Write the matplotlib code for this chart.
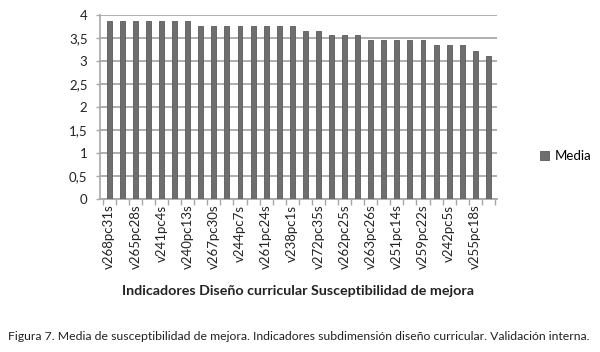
import matplotlib
matplotlib.use("Agg")
import matplotlib.pyplot as plt
import numpy as np

values = [3.88, 3.88, 3.88, 3.88, 3.88, 3.88, 3.88,
          3.77, 3.77, 3.77, 3.77, 3.77, 3.77, 3.77, 3.77,
          3.66, 3.66,
          3.56, 3.56, 3.56,
          3.45, 3.45, 3.45, 3.45, 3.45,
          3.34, 3.34, 3.34,
          3.22, 3.11]
tick_labels = ["v268pc31s", "v265pc28s", "v241pc4s", "v240pc13s", "v267pc30s",
               "v244pc7s", "v261pc24s", "v238pc1s", "v272pc35s", "v262pc25s",
               "v263pc26s", "v251pc14s", "v259pc22s", "v242pc5s", "v255pc18s"]
series_name = "Media"
xlabel = "Indicadores Diseño curricular Susceptibilidad de mejora"
caption = ("Figura 7. Media de susceptibilidad de mejora. Indicadores subdimensión "
           "diseño curricular. Validación interna.")

plt.rcParams['font.family'] = ['Lato', 'DejaVu Sans']

fig = plt.figure(figsize=(6.0, 3.52), dpi=100)
ax = fig.add_axes([100/600, 1-199/352, 397/600, 184/352])

x = np.arange(len(values))
bar_color = '#6e6e6e'
grid_color = '#a8a8a8'
ax.bar(x, values, width=0.38, color=bar_color, edgecolor='#5a5a5a',
       linewidth=0.6, label=series_name, zorder=3)

ax.set_ylim(0, 4)
ax.set_xlim(-0.71, len(values) - 0.34)
yt = np.arange(0, 4.01, 0.5)
ax.set_yticks(yt)
ax.set_yticklabels([("%g" % v).replace('.', ',') for v in yt], fontsize=9.5, color='#222222')
for v in yt:
    ax.axhline(v, color=grid_color, linewidth=1.3, zorder=1)

ax.set_xticks(x[::2])
ax.set_xticklabels(tick_labels, rotation=90, fontsize=9.5, va='top', ha='center', color='#222222')
ax.set_xticks(np.arange(-0.5, len(values), 1), minor=True)
ax.tick_params(axis='x', which='major', length=0, pad=4)
ax.tick_params(axis='x', which='minor', length=4, color=grid_color, width=1)
ax.tick_params(axis='y', length=3, color=grid_color, width=1, pad=6)

for s in ['top', 'right']:
    ax.spines[s].set_visible(False)
ax.spines['left'].set_color(grid_color)
ax.spines['left'].set_linewidth(1.2)
ax.spines['bottom'].set_color(grid_color)
ax.spines['bottom'].set_linewidth(1.3)

ax.set_xlabel(xlabel, fontsize=10.3, fontweight='bold', color='#222222', labelpad=6)
ax.xaxis.set_label_coords(0.5, -0.47)

leg = fig.legend(loc='center left', bbox_to_anchor=(528/600, 1-156/352), frameon=False,
                 fontsize=9.5, handlelength=0.7, handleheight=0.7, handletextpad=0.4)

fig.text(8/600, 1-337/352, caption, fontsize=8.8, color='#222222', va='center', ha='left')

fig.savefig("out.png", dpi=100)
